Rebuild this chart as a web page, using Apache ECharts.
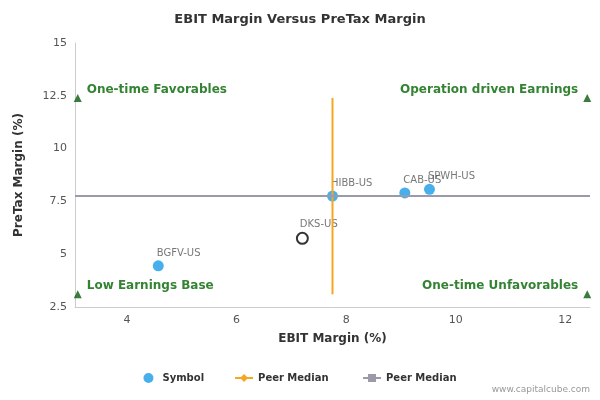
<!DOCTYPE html>
<html><head><meta charset="utf-8">
<script src="https://cdn.jsdelivr.net/npm/echarts@6/dist/echarts.min.js"></script>
<style>html,body{margin:0;padding:0}#c{width:600px;height:400px}</style>
</head><body><div id="c"></div>
<script>
// data
var symbols = ["BGFV-US", "DKS-US", "HIBB-US", "CAB-US", "SPWH-US"];
var ebit = [4.57, 7.2, 7.75, 9.07, 9.52];
var pretax = [4.45, 5.75, 7.75, 7.9, 8.07];
var hollow = [false, true, false, false, false];
var peerX = [7.75, 7.75];
var peerXy = [3.1, 12.4];
var peerYx = [3.05, 12.45];
var peerY = [7.75, 7.75];
var quadrants = [
  { name: "One-time Favorables", x: 3.1, y: 12.4, pos: "right" },
  { name: "Operation driven Earnings", x: 12.4, y: 12.4, pos: "left" },
  { name: "Low Earnings Base", x: 3.1, y: 3.1, pos: "right" },
  { name: "One-time Unfavorables", x: 12.4, y: 3.1, pos: "left" }
];

var chart = echarts.init(document.getElementById("c"));
var font = "DejaVu Sans";
chart.setOption({
  textStyle: { fontFamily: font },
  title: { text: "EBIT Margin Versus PreTax Margin", left: "center", top: 8,
    textStyle: { fontSize: 13, fontWeight: "bold", color: "#333", fontFamily: font } },
  grid: { left: 75, right: 10, top: 43, bottom: 93 },
  xAxis: { type: "value", min: 3.05, max: 12.45,
    name: "EBIT Margin (%)", nameLocation: "middle", nameGap: 26,
    nameTextStyle: { fontWeight: "bold", fontSize: 12, color: "#333" },
    axisLabel: { color: "#555", fontSize: 11, customValues: [4, 6, 8, 10, 12] },
    axisTick: { show: false }, splitLine: { show: false },
    axisLine: { lineStyle: { color: "#ccc" } } },
  yAxis: { type: "value", min: 2.5, max: 15, interval: 2.5,
    name: "PreTax Margin (%)", nameLocation: "middle", nameGap: 50,
    nameTextStyle: { fontWeight: "bold", fontSize: 12, color: "#333" },
    axisLabel: { color: "#555", fontSize: 11 },
    axisTick: { show: false }, splitLine: { show: false },
    axisLine: { show: true, lineStyle: { color: "#ccc" } } },
  legend: { bottom: 12, left: "center", itemGap: 30, itemWidth: 18, itemHeight: 10,
    textStyle: { fontSize: 10, fontWeight: "bold", color: "#333" },
    data: [{ name: "Symbol", icon: "circle" }, "Peer Median ", "Peer Median"] },
  series: [
    { name: "Peer Median ", type: "line", symbol: "diamond", showSymbol: false,
      data: [[peerX[0], peerXy[0]], [peerX[1], peerXy[1]]],
      lineStyle: { color: "#f5a623", width: 2 }, itemStyle: { color: "#f5a623" } },
    { name: "Peer Median", type: "line", symbol: "rect", showSymbol: false,
      data: [[peerYx[0], peerY[0]], [peerYx[1], peerY[1]]],
      lineStyle: { color: "#9a9aa8", width: 2 }, itemStyle: { color: "#9a9aa8" } },
    { name: "Symbol", type: "scatter", symbolSize: 11, itemStyle: { color: "#1a9be8" },
      data: symbols.map(function (s, i) {
        return { value: [ebit[i], pretax[i]], name: s,
          itemStyle: hollow[i] ? { color: "#fff", borderColor: "#000", borderWidth: 2 } : {} };
      }),
      label: { show: true, position: [4, -12], formatter: "{b}", color: "#555", fontSize: 10 } },
    { type: "scatter", symbol: "triangle", symbolSize: 8, itemStyle: { color: "#0a5a0a" },
      data: quadrants.map(function (q) { return { value: [q.x, q.y], name: q.name,
        label: { position: q.pos } }; }),
      label: { show: true, formatter: "{b}", color: "#006400", fontWeight: "bold", fontSize: 12, offset: [0, -8] } }
  ],
  graphic: [{ type: "text", right: 10, bottom: 6, style: { text: "www.capitalcube.com", fill: "#999", fontSize: 9, fontFamily: font } }]
});
</script></body></html>
